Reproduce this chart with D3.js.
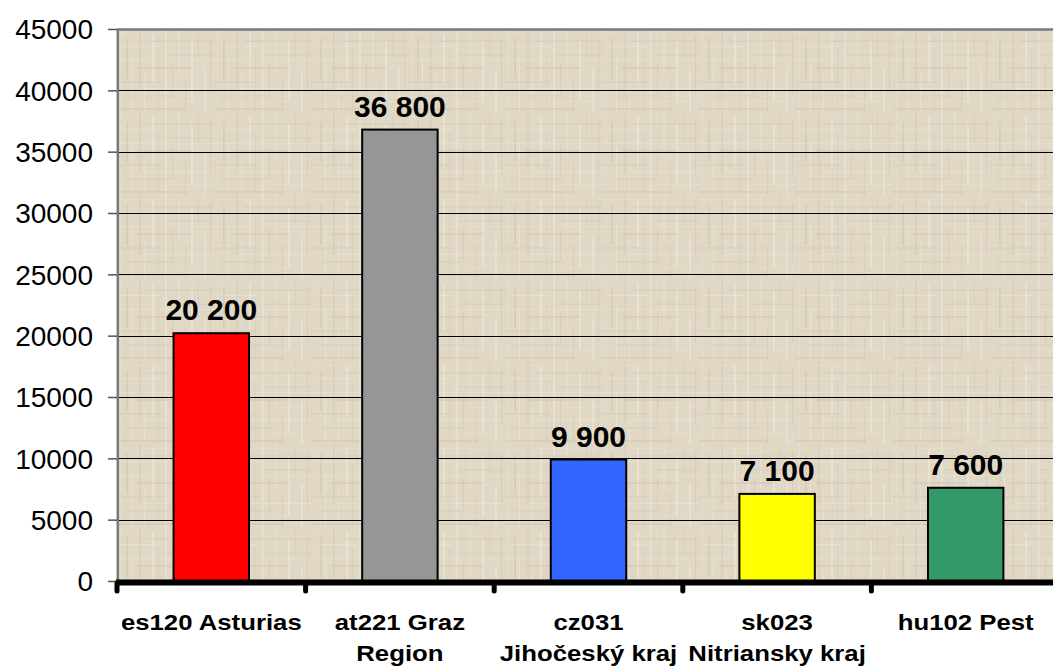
<!DOCTYPE html>
<html>
<head>
<meta charset="utf-8">
<script src="https://cdn.jsdelivr.net/npm/d3@7/dist/d3.min.js"></script>
<style>
  html, body { margin: 0; padding: 0; background: #fff; }
  svg { display: block; font-family: Arial, "Liberation Sans", sans-serif; }
</style>
</head>
<body>
<div id="chart"></div>
<script>
// data
var regionCodes = ["es120", "at221", "cz031", "sk023", "hu102"];
var regionLabels = [["es120 Asturias"], ["at221 Graz", "Region"], ["cz031", "Jihočeský kraj"], ["sk023", "Nitriansky kraj"], ["hu102 Pest"]];
var values = [20200, 36800, 9900, 7100, 7600];
var valueLabels = ["20 200", "36 800", "9 900", "7 100", "7 600"];
var barColors = ["#ff0000", "#969696", "#3366ff", "#ffff00", "#339966"];
var yTicks = [0, 5000, 10000, 15000, 20000, 25000, 30000, 35000, 40000, 45000];

var margin = {top: 29, right: -7, bottom: 85, left: 117},
    width = 1053 - margin.left - margin.right,
    height = 666 - margin.top - margin.bottom;

var svg = d3.select("#chart").append("svg")
  .attr("width", 1053)
  .attr("height", 666);

// canvas-like texture for the plot area (fixed streak layout)
var defs = svg.append("defs");
var tw = 97, th = 83;
var tile = defs.append("pattern")
  .attr("id", "canvas")
  .attr("patternUnits", "userSpaceOnUse")
  .attr("width", tw).attr("height", th);
tile.append("rect").attr("width", tw).attr("height", th).attr("fill", "#e0d7c5");
// [offset, start, length, light?]
var vStreaks = [[3, 0, 83, 1], [9, 10, 40, 0], [14, 30, 53, 1], [22, 0, 60, 0], [27, 45, 38, 1], [35, 5, 50, 1],
                [41, 20, 63, 0], [48, 0, 83, 1], [55, 35, 30, 0], [61, 0, 45, 1], [68, 50, 33, 0], [74, 12, 60, 1],
                [81, 0, 30, 0], [87, 40, 43, 1], [93, 8, 55, 0]];
var hStreaks = [[4, 0, 60, 1], [11, 30, 67, 0], [17, 5, 40, 1], [25, 50, 47, 0], [31, 0, 97, 1], [38, 20, 55, 0],
                [46, 60, 37, 1], [52, 0, 45, 0], [59, 25, 72, 1], [66, 10, 50, 0], [72, 55, 42, 1], [79, 0, 70, 0]];
vStreaks.forEach(function(s, i) {
  tile.append("rect").attr("x", s[0]).attr("y", s[1]).attr("width", 1 + (i % 2)).attr("height", s[2])
    .attr("fill", s[3] ? "#f0eadf" : "#cbc0ab").attr("opacity", 0.3 + (i % 3) * 0.12);
});
hStreaks.forEach(function(s, i) {
  tile.append("rect").attr("x", s[1]).attr("y", s[0]).attr("width", s[2]).attr("height", 1 + (i % 2))
    .attr("fill", s[3] ? "#efe9dd" : "#cec4b0").attr("opacity", 0.25 + (i % 3) * 0.1);
});

var chartGroup = svg.append("g")
  .attr("transform", "translate(" + margin.left + "," + margin.top + ")");

var xScale = d3.scaleBand()
  .domain(regionCodes)
  .range([0, width])
  .paddingInner(0.6)
  .paddingOuter(0.3);

var yScale = d3.scaleLinear().domain([0, 45000]).range([height, 0]);

// plot background
chartGroup.append("rect")
  .attr("width", width).attr("height", height)
  .attr("fill", "url(#canvas)");

// gridlines
chartGroup.selectAll(".grid")
  .data(yTicks.filter(function(d) { return d > 0 && d < 45000; }))
  .enter().append("line")
  .attr("x1", 0).attr("x2", width)
  .attr("y1", function(d) { return Math.round(yScale(d)) + 0.5; })
  .attr("y2", function(d) { return Math.round(yScale(d)) + 0.5; })
  .attr("stroke", "#000").attr("stroke-width", 1);

// top and left border
chartGroup.append("line").attr("x1", 0).attr("x2", width).attr("y1", 0.5).attr("y2", 0.5)
  .attr("stroke", "#7a7a7a").attr("stroke-width", 2.5);
chartGroup.append("line").attr("x1", 0.8).attr("x2", 0.8).attr("y1", 0).attr("y2", height)
  .attr("stroke", "#7a7a7a").attr("stroke-width", 2.5);

// y axis
var yAxis = d3.axisLeft(yScale).tickValues(yTicks).tickSize(9).tickFormat(d3.format("d"));
var yAxisDisplay = chartGroup.append("g").call(yAxis);
yAxisDisplay.select(".domain").remove();
yAxisDisplay.selectAll(".tick line").attr("stroke", "#555").attr("stroke-width", 1.5);
yAxisDisplay.selectAll(".tick text")
  .attr("x", -24)
  .attr("dy", "0.35em")
  .attr("fill", "#000")
  .style("font-size", "28px")
  .style("font-family", "Arial, 'Liberation Sans', sans-serif");

// bars
chartGroup.selectAll(".bar")
  .data(values)
  .enter().append("rect")
  .attr("class", "bar")
  .attr("x", function(d, i) { return xScale(regionCodes[i]); })
  .attr("width", xScale.bandwidth())
  .attr("y", function(d) { return yScale(d); })
  .attr("height", function(d) { return height - yScale(d); })
  .attr("fill", function(d, i) { return barColors[i]; })
  .attr("stroke", "#000")
  .attr("stroke-width", 2);

// value labels
chartGroup.selectAll(".valueLabel")
  .data(values)
  .enter().append("text")
  .attr("x", function(d, i) { return xScale(regionCodes[i]) + xScale.bandwidth() / 2; })
  .attr("y", function(d) { return yScale(d) - 13; })
  .attr("text-anchor", "middle")
  .style("font-size", "30px")
  .style("font-weight", "bold")
  .text(function(d, i) { return valueLabels[i]; });

// x axis: thick base line with category boundary ticks
var step = xScale.step();
chartGroup.append("line")
  .attr("x1", -1).attr("x2", width)
  .attr("y1", height + 1.5).attr("y2", height + 1.5)
  .attr("stroke", "#000").attr("stroke-width", 6);
chartGroup.selectAll(".xtick")
  .data(d3.range(regionCodes.length + 1))
  .enter().append("line")
  .attr("x1", function(i) { return i * step; })
  .attr("x2", function(i) { return i * step; })
  .attr("y1", height + 2).attr("y2", height + 10)
  .attr("stroke", "#000").attr("stroke-width", 5)
  .attr("stroke-linecap", "round");

// category labels
var xLabels = chartGroup.selectAll(".xLabel")
  .data(regionLabels)
  .enter().append("g")
  .attr("transform", function(d, i) {
    return "translate(" + (xScale(regionCodes[i]) + xScale.bandwidth() / 2) + "," + (height + 49) + ") scale(1.12,1)";
  });
xLabels.selectAll("text")
  .data(function(d) { return d; })
  .enter().append("text")
  .attr("y", function(d, j) { return j * 31; })
  .attr("text-anchor", "middle")
  .style("font-size", "23px")
  .style("font-weight", "bold")
  .text(function(d) { return d; });
</script>
</body>
</html>
